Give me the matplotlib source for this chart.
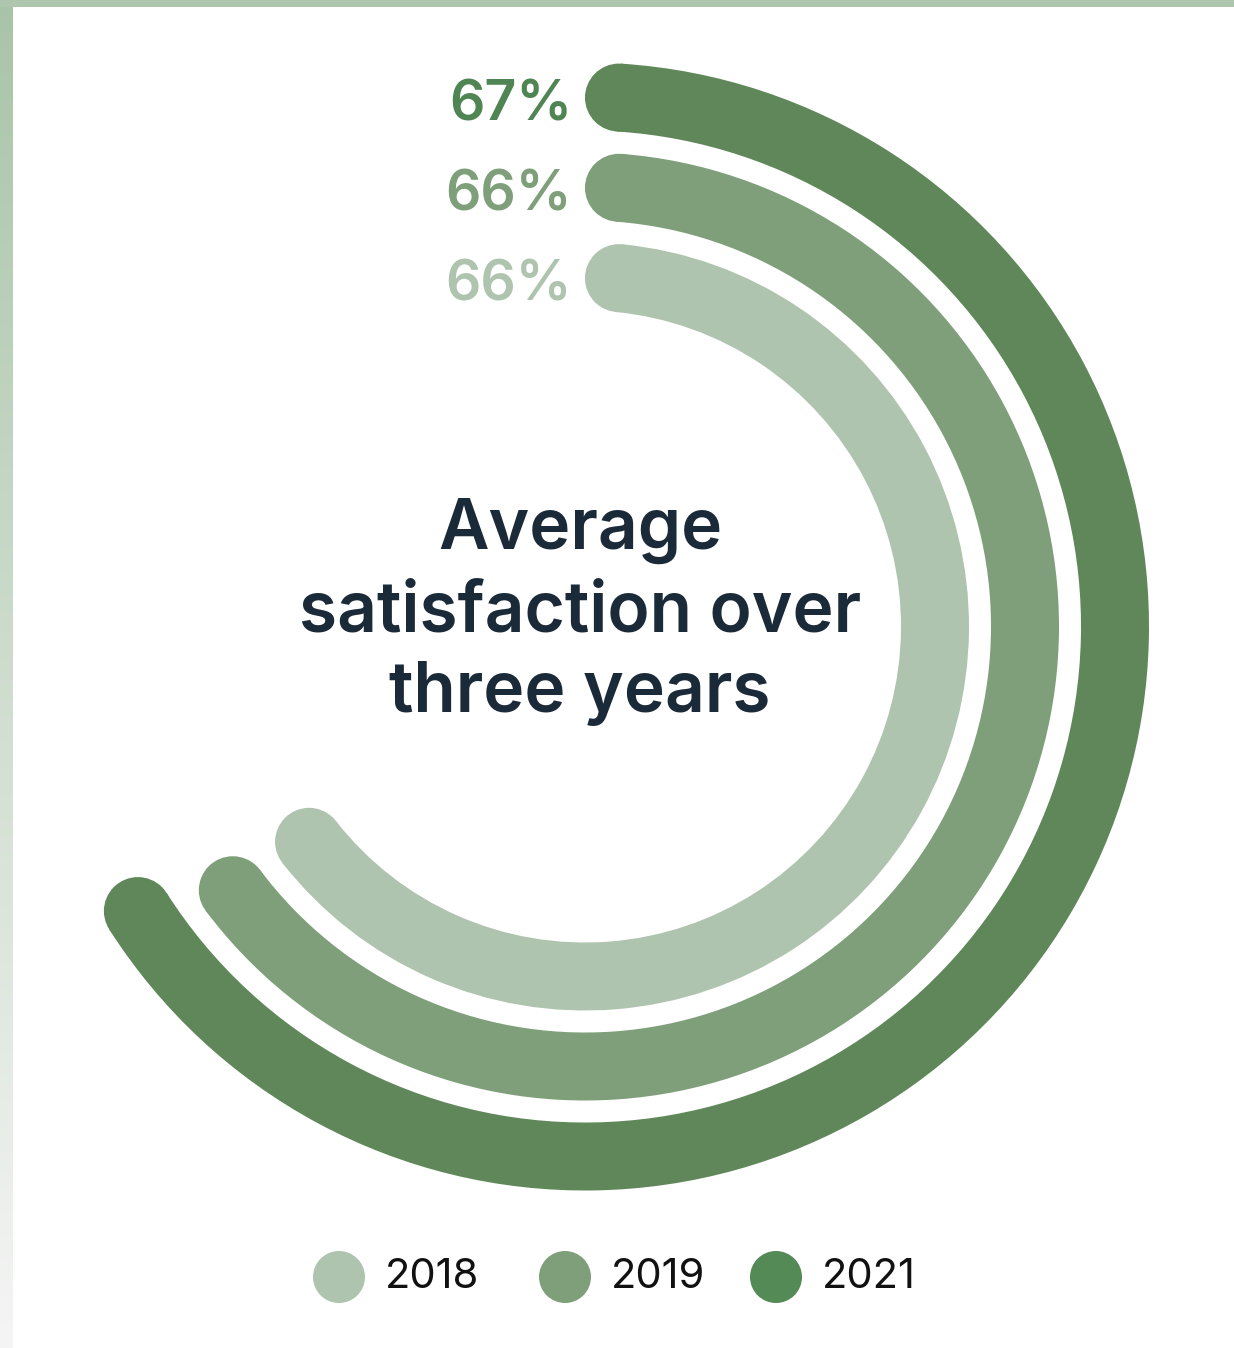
import numpy as np
import matplotlib
matplotlib.use("Agg")
import matplotlib.pyplot as plt
from matplotlib.patches import Wedge, Circle, Rectangle

# ---- data ----
years = ["2018", "2019", "2021"]
values = [66, 66, 67]            # percent satisfaction
labels = ["66%", "66%", "67%"]
ring_colors = ["#AFC4AE", "#7E9F7A", "#5F8759"]
label_colors = ["#AFC4AE", "#7E9F7A", "#4F8453"]
legend_colors = ["#AFC4AE", "#7E9F7A", "#548A56"]
title = "Average\nsatisfaction over\nthree years"

W, H = 1234, 1348
fig = plt.figure(figsize=(W / 100, H / 100), dpi=100)
ax = fig.add_axes([0, 0, 1, 1])
ax.set_xlim(0, W)
ax.set_ylim(0, H)
ax.set_aspect("equal")
ax.axis("off")

FONT = ["Inter", "DejaVu Sans"]

# border decorations
grad = np.linspace(0, 1, 256).reshape(-1, 1)
top_c = np.array([0.66, 0.77, 0.66])
bot_c = np.array([0.96, 0.96, 0.96])
img = top_c[None, None, :] * (1 - grad[:, :, None]) + bot_c[None, None, :] * grad[:, :, None]
ax.imshow(img, extent=[0, 12.5, 0, H], origin="upper", aspect="auto", zorder=1)
ax.add_patch(Rectangle((0, H - 7), W, 7, color="#ADC6AD", lw=0, zorder=2))

# rings
cx, cy = 585, H - 626.5
radii = [350, 440, 530]
width = 68
for v, r, col in zip(values, radii, ring_colors):
    cap = np.degrees((width / 2) / r)
    end = v / 100 * 360
    t1, t2 = 90 - (end - cap), 90 - cap
    ax.add_patch(Wedge((cx, cy), r + width / 2, t1, t2, width=width,
                       facecolor=col, edgecolor="none", zorder=3))
    for a in (cap, end - cap):
        ar = np.radians(a)
        ax.add_patch(Circle((cx + r * np.sin(ar), cy + r * np.cos(ar)), width / 2,
                            facecolor=col, edgecolor="none", zorder=3))

# percent labels
for lab, r, col in zip(labels, radii, label_colors):
    ax.text(572, cy + r - 9, lab, ha="right", va="center", color=col,
            fontsize=40, fontweight="semibold", family=FONT, zorder=4)

# center title
ax.text(580, H - 612, title, ha="center", va="center", color="#1B2A38",
        fontsize=50, fontweight="semibold", family=FONT, linespacing=1.32, zorder=4)

# legend
leg_x = [339, 565, 776]
for x, yr, col in zip(leg_x, years, legend_colors):
    ax.add_patch(Circle((x, H - 1277), 26, facecolor=col, edgecolor="none", zorder=4))
    ax.text(x + 46, H - 1277, yr, ha="left", va="center", color="#111111",
            fontsize=30, family=FONT, zorder=4)

fig.savefig("out.png", dpi=100, facecolor="white")
